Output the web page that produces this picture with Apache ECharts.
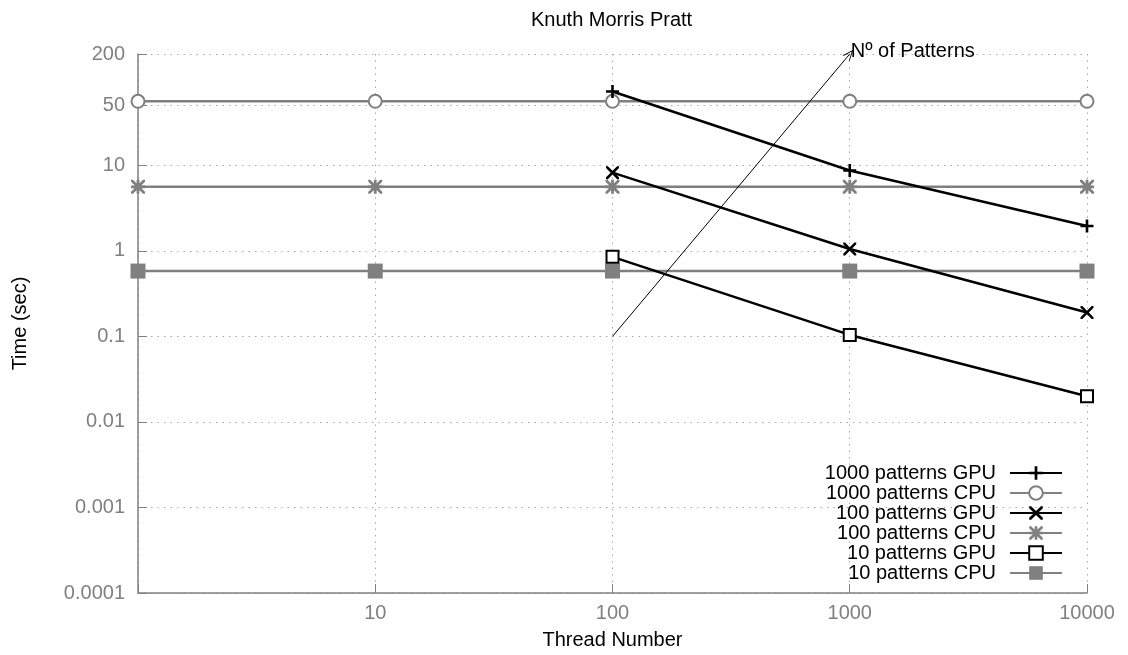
<!DOCTYPE html>
<html><head><meta charset="utf-8">
<script src="https://cdn.jsdelivr.net/npm/echarts@6/dist/echarts.min.js"></script>
<style>html,body{margin:0;padding:0;background:#fff}#c{width:1128px;height:655px}</style>
</head><body><div id="c"></div>
<script>
const titleText = 'Knuth Morris Pratt';
const xName = 'Thread Number';
const yName = 'Time (sec)';
const threadsAll = [1, 10, 100, 1000, 10000];
const threadsGpu = [100, 1000, 10000];
const gpu1000 = [73, 8.7, 1.95];
const cpu1000 = [56, 56, 56, 56, 56];
const gpu100 = [8.2, 1.05, 0.19];
const cpu100 = [5.6, 5.6, 5.6, 5.6, 5.6];
const gpu10 = [0.85, 0.104, 0.02];
const cpu10 = [0.58, 0.58, 0.58, 0.58, 0.58];
const seriesNames = ['1000 patterns GPU', '1000 patterns CPU', '100 patterns GPU', '100 patterns CPU', '10 patterns GPU', '10 patterns CPU'];
const yTickValues = [0.0001, 0.001, 0.01, 0.1, 1, 10, 50, 200];
const xTickValues = [1, 10, 100, 1000, 10000];
const xLabelValues = [10, 100, 1000, 10000];
const arrowStart = [100, 0.1];
const arrowEnd = [1000, 200];
const arrowText = 'Nº of Patterns';

const FONT = 'Liberation Sans';
const BLACK = '#000000';
const GRAY = '#808080';
const PLUS = 'path://M4.8,0H7.2V4.8H12V7.2H7.2V12H4.8V7.2H0V4.8H4.8Z';
const CROSS = 'path://M0,0L1.7,0L6,4.3L10.3,0L12,0L12,1.7L7.7,6L12,10.3L12,12L10.3,12L6,7.7L1.7,12L0,12L0,10.3L4.3,6L0,1.7Z';
const STAR = 'path://M4.8,0H7.2V4.8H12V7.2H7.2V12H4.8V7.2H0V4.8H4.8Z M0,0L1.7,0L6,4.3L10.3,0L12,0L12,1.7L7.7,6L12,10.3L12,12L10.3,12L6,7.7L1.7,12L0,12L0,10.3L4.3,6L0,1.7Z';
const ARROW = 'path://M0,12L5,0L10,12L9,12L5,2.5L1,12Z';

function zip(xs, ys) { return xs.map((x, i) => [x, ys[i]]); }

function mk(name, xs, ys, color, symbol, size, bw, z) {
  return {
    name: name, type: 'line', data: zip(xs, ys), z: z,
    symbol: symbol, symbolSize: size, showAllSymbol: true,
    lineStyle: { color: color, width: 2.5 },
    itemStyle: { color: color, borderColor: color, borderWidth: bw },
    emphasis: { disabled: true }
  };
}

const series = [
  mk(seriesNames[0], threadsGpu, gpu1000, BLACK, PLUS, 13, 0, 5),
  mk(seriesNames[1], threadsAll, cpu1000, GRAY, 'emptyCircle', 13, 2.5, 3),
  mk(seriesNames[2], threadsGpu, gpu100, BLACK, CROSS, 13, 0, 5),
  mk(seriesNames[3], threadsAll, cpu100, GRAY, STAR, 14, 0, 3),
  mk(seriesNames[4], threadsGpu, gpu10, BLACK, 'emptyRect', 12, 2.5, 5),
  mk(seriesNames[5], threadsAll, cpu10, GRAY, 'rect', 15, 0, 3)
];
series[4].markLine = {
  silent: true, symbol: ['none', ARROW], symbolSize: [9, 11],
  lineStyle: { color: BLACK, width: 1, type: 'solid' },
  label: { show: false },
  data: [[{ coord: arrowStart }, { coord: arrowEnd }]]
};
series[4].markPoint = {
  silent: true, symbol: 'circle', symbolSize: 0,
  label: { show: true, position: 'right', distance: 1, offset: [0, -3], formatter: arrowText, color: BLACK, fontSize: 20, fontFamily: FONT },
  data: [{ coord: arrowEnd }]
};

const fmt = v => String(+(+v).toPrecision(6));
const gridLine = { show: true, lineStyle: { type: [1.5, 5], color: '#a8a8a8', width: 1 } };

const chart = echarts.init(document.getElementById('c'), null, { renderer: 'canvas' });
chart.setOption({
  animation: false,
  backgroundColor: '#ffffff',
  title: { text: titleText, left: 531, top: 10, padding: 0, textStyle: { fontFamily: FONT, fontSize: 20, fontWeight: 'normal', color: BLACK } },
  grid: { left: 138, right: 41, top: 54, bottom: 60, containLabel: false },
  legend: {
    data: seriesNames, orient: 'vertical', align: 'right', right: 65, top: 463, padding: 0, itemGap: 0,
    itemWidth: 52, itemHeight: 17, selectedMode: false,
    formatter: n => '{t|' + n + '}',
    textStyle: { fontFamily: FONT, fontSize: 20, color: BLACK, rich: { t: { fontFamily: FONT, fontSize: 20, color: BLACK, padding: [0, 9, 0, 0] } } }
  },
  xAxis: {
    type: 'log', logBase: 10, min: 1, max: 10000,
    name: xName, nameLocation: 'middle', nameGap: 37,
    nameTextStyle: { fontFamily: FONT, fontSize: 20, color: BLACK },
    axisLine: { show: true, onZero: false, lineStyle: { color: GRAY, width: 1.5 } },
    axisTick: { show: true, inside: true, length: 9, customValues: xTickValues, lineStyle: { color: GRAY } },
    axisLabel: { customValues: xLabelValues, formatter: fmt, color: GRAY, fontSize: 20, fontFamily: FONT, margin: 10 },
    splitLine: gridLine
  },
  yAxis: {
    type: 'log', logBase: 10, min: 0.0001, max: 200,
    name: yName, nameLocation: 'middle', nameGap: 108, nameRotate: 90,
    nameTextStyle: { fontFamily: FONT, fontSize: 20, color: BLACK },
    axisLine: { show: true, onZero: false, lineStyle: { color: GRAY, width: 1.5 } },
    axisTick: { show: true, inside: true, length: 9, customValues: yTickValues, lineStyle: { color: GRAY } },
    axisLabel: { customValues: yTickValues, formatter: fmt, color: GRAY, fontSize: 20, fontFamily: FONT, margin: 13 },
    splitLine: gridLine
  },
  series: series
});
</script></body></html>
